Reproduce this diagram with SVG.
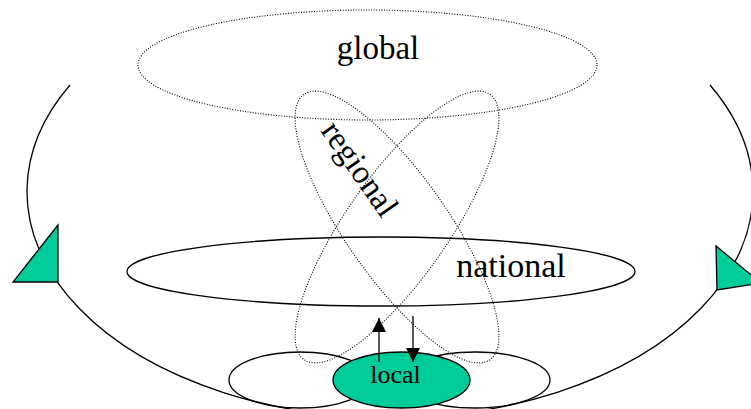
<svg xmlns="http://www.w3.org/2000/svg" width="751" height="409" viewBox="0 0 751 409">
<style>
.solid{fill:none;stroke:#000;stroke-width:1.3}
.dot{fill:none;stroke:#000;stroke-width:1.1;stroke-dasharray:1 1.6}
.green{fill:#00CC99;stroke:#000;stroke-width:1.3}
.lbl{font-family:"Liberation Serif","Times New Roman",serif;fill:#000;text-anchor:middle}
.arrow{stroke:#000;stroke-width:1.3;fill:none;marker-end:url(#head)}
</style>
<defs>
<marker id="head" markerUnits="userSpaceOnUse" viewBox="0 0 14 14" markerWidth="14" markerHeight="14" refX="14" refY="7" orient="auto">
<path d="M0,0 L14,7 L0,14 z" fill="#000"/>
</marker>
</defs>
<g id="cycle">
<path class="solid" d="M70,85 A363,226 0 1 0 710,85"/>
</g>
<g id="global">
<ellipse class="dot" cx="367.5" cy="65" rx="229.5" ry="55"/>
<text class="lbl" x="378" y="59" font-size="33">global</text>
</g>
<g id="regional">
<ellipse class="dot" cx="397" cy="227" rx="162" ry="51" transform="rotate(55 397 227)"/>
<ellipse class="dot" cx="397" cy="227" rx="162" ry="51" transform="rotate(-55 397 227)"/>
<text class="lbl" font-size="33" transform="translate(351,175) rotate(55)">regional</text>
</g>
<g id="national">
<ellipse class="solid" cx="381" cy="271.5" rx="254" ry="34.5"/>
<text class="lbl" x="511" y="277" font-size="34">national</text>
</g>
<g id="local-left">
<ellipse class="solid" cx="300" cy="380" rx="71" ry="28"/>
</g>
<g id="local-right">
<ellipse class="solid" cx="475" cy="380" rx="75" ry="28"/>
</g>
<g id="local">
<ellipse class="green" cx="401.5" cy="380" rx="68.5" ry="28"/>
<text class="lbl" x="395.5" y="383" font-size="26">local</text>
</g>
<g id="marker-left">
<polygon class="green" points="58,225 13,282 58,282"/>
</g>
<g id="marker-right">
<polygon class="green" points="716,246 717,290 761,283"/>
</g>
<g id="connectors">
<line class="arrow" x1="379" y1="362" x2="379" y2="318"/>
<line class="arrow" x1="413" y1="316" x2="413" y2="362"/>
</g>
</svg>
